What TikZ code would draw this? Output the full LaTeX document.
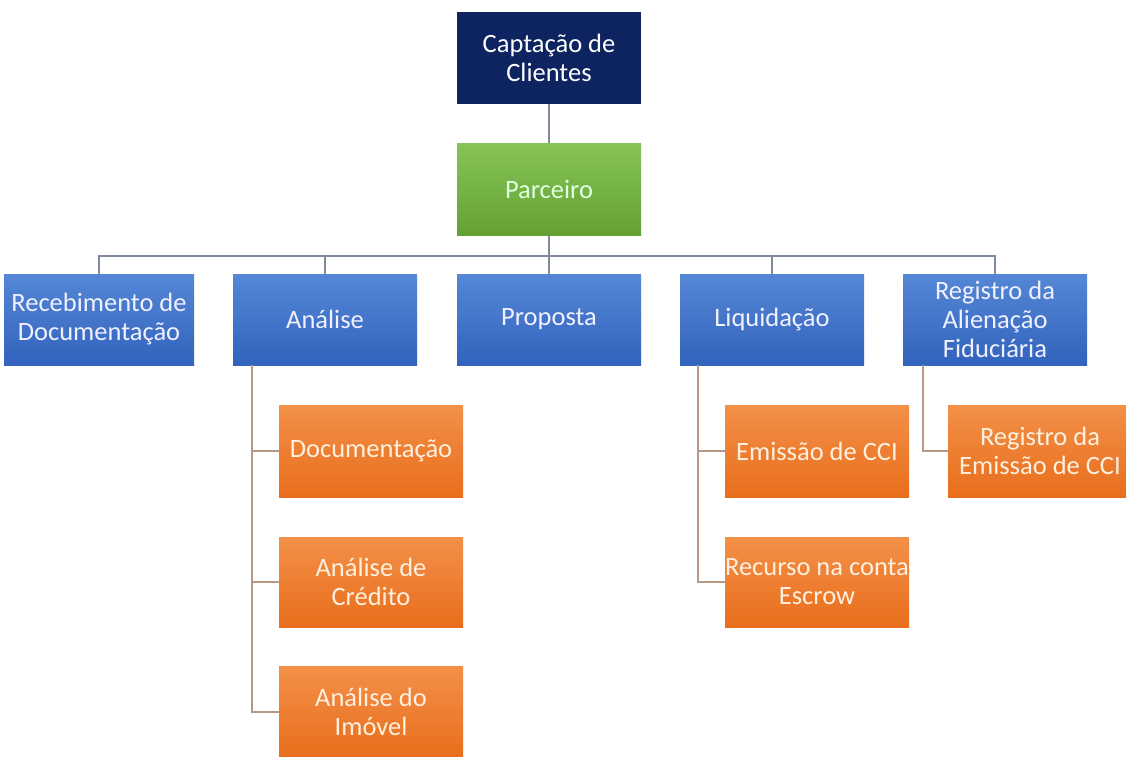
\documentclass[tikz,border=0pt]{standalone}
\usepackage{fontspec}
\setmainfont{Carlito}
\definecolor{navy}{HTML}{0E2460}
\definecolor{greentop}{HTML}{86C458}
\definecolor{greenbot}{HTML}{63A232}
\definecolor{bluetop}{HTML}{5587D6}
\definecolor{bluebot}{HTML}{3263BD}
\definecolor{orangetop}{HTML}{F39048}
\definecolor{orangebot}{HTML}{E86E1C}
\definecolor{trunkline}{HTML}{7F8B9C}
\definecolor{branchline}{HTML}{B89884}

\begin{document}
\begin{tikzpicture}[x=1pt,y=-1pt,
	box/.style={minimum width=184pt,minimum height=92pt,inner sep=0pt,align=center,font=\fontsize{26.5}{29}\selectfont},
	topbox/.style={box,fill=navy,text=white},
	partnerbox/.style={box,top color=greentop,bottom color=greenbot,text=green!12!white},
	stagebox/.style={box,minimum height=91pt,top color=bluetop,bottom color=bluebot,text=blue!6!white},
	taskbox/.style={box,top color=orangetop,bottom color=orangebot,text=orange!12!white},
	trunk/.style={draw=trunkline,line width=1.5pt},
	branch/.style={draw=branchline,line width=1.5pt}]
	\useasboundingbox (0,0) rectangle (1126,756);
	\fill[white] (0,0) rectangle (1126,756);

	\node[topbox] (capt) at (549,57.5) {Captação de\\Clientes};
	\node[partnerbox] (parc) at (549,189) {Parceiro};

	\node[stagebox,minimum width=190pt] (rec) at (99,319.5) {Recebimento de\\Documentação};
	\node[stagebox] (ana) at (325,319.5) {Análise};
	\node[stagebox] (prop) at (549,319.5) {Proposta};
	\node[stagebox] (liq) at (772,319.5) {Liquidação};
	\node[stagebox] (reg) at (995,319.5) {Registro da\\Alienação\\Fiduciária};

	\node[taskbox] (doc) at (371,451) {Documentação};
	\node[taskbox,minimum height=90pt] (cred) at (371,582) {Análise de\\Crédito};
	\node[taskbox] (imov) at (371,712) {Análise do\\Imóvel};
	\node[taskbox] (emis) at (817,451) {Emissão de CCI};
	\node[taskbox,minimum height=90pt] (recu) at (817,582) {Recurso na conta\\Escrow};
	\node[taskbox] (regemis) at (1040,451) {Registro da\\Emissão de CCI};

	\coordinate (bus) at (549,256);
	\draw[trunk] (capt.south) -- (parc.north);
	\draw[trunk] (parc.south) -- (bus);
	\foreach \n in {rec,ana,prop,liq,reg}
		\draw[trunk] (\n.north) |- (bus);

	\foreach \n in {doc,cred,imov}
		\draw[branch] ([xshift=19pt]ana.south west) |- (\n.west);
	\foreach \n in {emis,recu}
		\draw[branch] ([xshift=18pt]liq.south west) |- (\n.west);
	\draw[branch] ([xshift=20pt]reg.south west) |- (regemis.west);
\end{tikzpicture}
\end{document}
